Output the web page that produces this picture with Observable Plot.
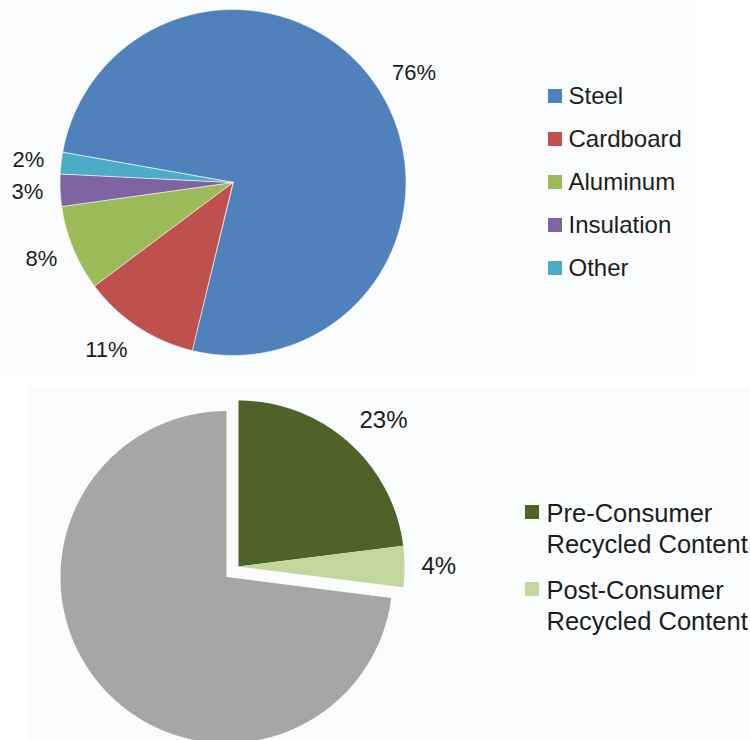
<!DOCTYPE html>
<html>
<head>
<meta charset="utf-8">
<script src="https://cdn.jsdelivr.net/npm/d3@7"></script>
<script src="https://cdn.jsdelivr.net/npm/@observablehq/plot@0.6"></script>
<style>
  html, body { margin: 0; padding: 0; background: #ffffff; }
  #wrap { position: relative; width: 750px; height: 740px; overflow: hidden; }
  .panel { position: absolute; background: #fbfcfd; }
  #chart { position: absolute; left: 0; top: 0; }
</style>
</head>
<body>
<div id="wrap">
  <div class="panel" style="left:0;top:0;width:695px;height:376px"></div>
  <div class="panel" style="left:27px;top:386px;width:723px;height:354px"></div>
  <div id="chart"></div>
</div>
<script>
// ---- data ----
const topNames = ["Steel", "Cardboard", "Aluminum", "Insulation", "Other"];
const topValues = [76, 11, 8, 3, 2];
const topColors = ["#4f81bd", "#c0504d", "#9bbb59", "#8064a2", "#4bacc6"];

const bottomNames = ["Pre-Consumer Recycled Content", "Post-Consumer Recycled Content", "Virgin Content"];
const bottomValues = [23, 4, 73];
const bottomColors = ["#4f6228", "#c3d69b", "#a6a6a6"];
const bottomLegendNames = ["Pre-Consumer Recycled Content", "Post-Consumer Recycled Content"];

// ---- layout ----
const W = 750, H = 740;
const FONT = "'Liberation Sans', Helvetica, Arial, sans-serif";
const TEXT = "#1c1c1c";
const TOP = {cx: 232.5, cy: 182, r: 173, start: 280, gap: 14, font: 22, explode: [0, 0, 0, 0, 0], stroke: "white"};
const BOT = {cx: 238, cy: 566, r: 166, start: 0, gap: 14, font: 24, explode: [0, 0, 16], stroke: "none"};
const TOPLEG = {x: 548, y: 96, step: 43, size: 14, font: 24, textDx: 20};
const BOTLEG = {x: 525, y: 512, step: 77, size: 14, font: 25.5, textDx: 21, lh: 1.22, dy: 15};

const rad = (d) => d * Math.PI / 180;

function pieArcs(names, values, L) {
  const arcs = d3.pie().sort(null).value((d) => d)
    .startAngle(rad(L.start)).endAngle(rad(L.start) + 2 * Math.PI)(values);
  return arcs.map((a, i) => {
    const mid = (a.startAngle + a.endAngle) / 2;
    const e = L.explode[i];
    return {name: names[i], value: values[i], s: a.startAngle, e: a.endAngle, mid,
      cx: L.cx + e * Math.sin(mid), cy: L.cy - e * Math.cos(mid)};
  });
}

function slicePoints(arcs, L) {
  const pts = [];
  for (const a of arcs) {
    pts.push({name: a.name, x: a.cx, y: a.cy});
    const n = Math.max(2, Math.ceil((a.e - a.s) / rad(0.5)));
    for (let k = 0; k <= n; k++) {
      const t = a.s + (a.e - a.s) * k / n;
      pts.push({name: a.name, x: a.cx + L.r * Math.sin(t), y: a.cy - L.r * Math.cos(t)});
    }
  }
  return pts;
}

function labelPoints(arcs, L, labelled) {
  return arcs.filter((a) => labelled.includes(a.name)).map((a) => {
    const text = a.value + "%";
    const digits = String(a.value).length;
    const w = (digits * 0.556 + 0.889) * L.font;
    const h = L.font * 1.2;
    const s = Math.sin(a.mid), c = -Math.cos(a.mid);
    const R = L.r + L.gap;
    const ax = a.cx + R * s, ay = a.cy + R * c;
    return {text, x: ax + Math.sign(s) * (w / 2) + 3 * s, y: ay + (h / 2) * c};
  });
}

const topArcs = pieArcs(topNames, topValues, TOP);
const botArcs = pieArcs(bottomNames, bottomValues, BOT);

const topLegend = topNames.map((name, i) => ({name, y: TOPLEG.y + i * TOPLEG.step}));
const botLegend = bottomLegendNames.map((name, i) => ({name, y: BOTLEG.y + i * BOTLEG.step}));

const chart = Plot.plot({
  width: W, height: H,
  margin: 0,
  style: {background: "transparent", fontFamily: FONT, overflow: "visible"},
  x: {domain: [0, W], range: [0, W], axis: null},
  y: {domain: [0, H], range: [0, H], axis: null},
  color: {type: "ordinal", domain: [...topNames, ...bottomNames], range: [...topColors, ...bottomColors]},
  marks: [
    Plot.line(slicePoints(topArcs, TOP), {x: "x", y: "y", z: "name", fill: "name", stroke: TOP.stroke, strokeWidth: 0.6, curve: "linear-closed"}),
    Plot.line(slicePoints(botArcs, BOT), {x: "x", y: "y", z: "name", fill: "name", stroke: BOT.stroke, curve: "linear-closed"}),
    Plot.text(labelPoints(topArcs, TOP, topNames), {x: "x", y: "y", text: "text", fontSize: TOP.font, fill: TEXT, textAnchor: "middle", lineAnchor: "middle"}),
    Plot.text(labelPoints(botArcs, BOT, bottomLegendNames), {x: "x", y: "y", text: "text", fontSize: BOT.font, fill: TEXT, textAnchor: "middle", lineAnchor: "middle"}),
    // top legend
    Plot.rect(topLegend, {x1: () => TOPLEG.x, x2: () => TOPLEG.x + TOPLEG.size,
      y1: (d) => d.y - TOPLEG.size / 2, y2: (d) => d.y + TOPLEG.size / 2, fill: "name"}),
    Plot.text(topLegend, {x: () => TOPLEG.x + TOPLEG.textDx, y: "y", text: "name", fontSize: TOPLEG.font,
      fill: TEXT, textAnchor: "start", lineAnchor: "middle"}),
    // bottom legend
    Plot.rect(botLegend, {x1: () => BOTLEG.x, x2: () => BOTLEG.x + BOTLEG.size,
      y1: (d) => d.y - BOTLEG.size / 2, y2: (d) => d.y + BOTLEG.size / 2, fill: "name"}),
    Plot.text(botLegend, {x: () => BOTLEG.x + BOTLEG.textDx, y: (d) => d.y + BOTLEG.dy, text: "name", fontSize: BOTLEG.font,
      fill: TEXT, textAnchor: "start", lineAnchor: "middle", lineWidth: 9, lineHeight: BOTLEG.lh})
  ]
});
document.getElementById("chart").appendChild(chart);
</script>
</body>
</html>
